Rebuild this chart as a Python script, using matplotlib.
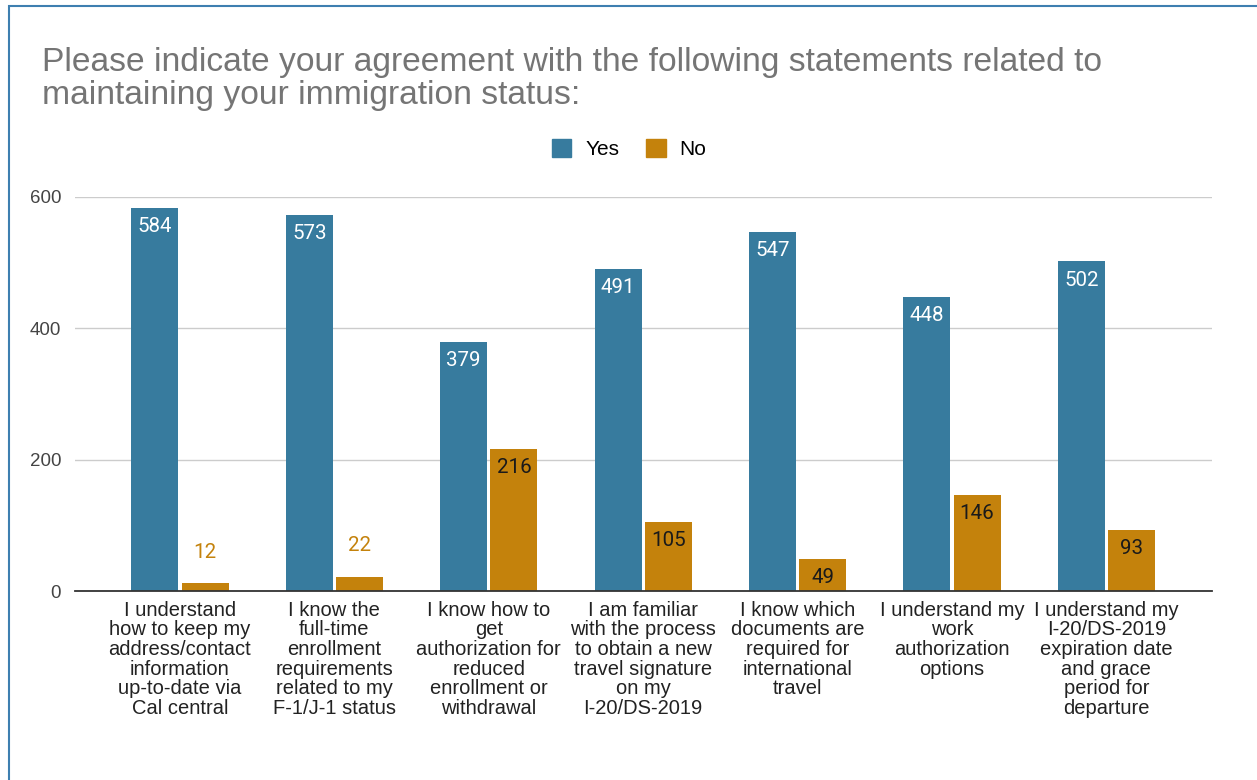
import matplotlib.pyplot as plt
from matplotlib.patches import Rectangle, Patch
import numpy as np

# Survey responses per statement
statements = [
    "I understand\nhow to keep my\naddress/contact\ninformation\nup-to-date via\nCal central",
    "I know the\nfull-time\nenrollment\nrequirements\nrelated to my\nF-1/J-1 status",
    "I know how to\nget\nauthorization for\nreduced\nenrollment or\nwithdrawal",
    "I am familiar\nwith the process\nto obtain a new\ntravel signature\non my\nI-20/DS-2019",
    "I know which\ndocuments are\nrequired for\ninternational\ntravel",
    "I understand my\nwork\nauthorization\noptions",
    "I understand my\nI-20/DS-2019\nexpiration date\nand grace\nperiod for\ndeparture",
]
yes_counts = [584, 573, 379, 491, 547, 448, 502]
no_counts = [12, 22, 216, 105, 49, 146, 93]

YES_COLOR = '#377b9e'
NO_COLOR = '#c4820c'
FONT = 'Liberation Sans'

fig = plt.figure(figsize=(12.57, 7.80), dpi=100)
ax = fig.add_axes([75 / 1257, 1 - 591 / 780, 1137 / 1257, 394 / 780])

x = np.arange(len(statements))
w = 0.305
gap = 0.01
yes_bars = ax.bar(x - w / 2 - gap, yes_counts, w, color=YES_COLOR, zorder=3)
no_bars = ax.bar(x + w / 2 + gap, no_counts, w, color=NO_COLOR, zorder=3)

# value labels: inside the bar if it fits, above it otherwise
for bar, v in zip(yes_bars, yes_counts):
    ax.annotate(str(v), (bar.get_x() + bar.get_width() / 2, v),
                xytext=(0, -13.5), textcoords='offset points',
                ha='center', va='center', color='white', fontsize=14.8,
                family='Roboto', zorder=4)
for bar, v in zip(no_bars, no_counts):
    if v > 40:
        off, col = -13.5, '#1a1a1a'
    else:
        off, col = 22, NO_COLOR
    ax.annotate(str(v), (bar.get_x() + bar.get_width() / 2, v),
                xytext=(0, off), textcoords='offset points',
                ha='center', va='center', color=col, fontsize=14.8,
                family='Roboto', zorder=4)

ax.set_ylim(0, 600)
ax.set_xlim(-0.68, 6.684)
ax.set_yticks([0, 200, 400, 600])
ax.yaxis.grid(True, color='#cccccc', linewidth=1, zorder=0)
ax.set_axisbelow(True)
for s in ['top', 'right', 'left']:
    ax.spines[s].set_visible(False)
ax.spines['bottom'].set_color('#333333')
ax.spines['bottom'].set_linewidth(1.3)
ax.spines['bottom'].set_zorder(5)
ax.tick_params(axis='y', length=0, pad=10, labelsize=13.5, labelcolor='#444444')
ax.tick_params(axis='x', length=0, pad=7)
ax.set_xticks(x)
ax.set_xticklabels(statements, fontsize=14.5, family=FONT, color='#222222',
                   linespacing=1.04, ha='center', va='top')
for lab in ax.get_yticklabels():
    lab.set_family(FONT)

fig.text(42 / 1257, 1 - 47 / 780,
         "Please indicate your agreement with the following statements related to\n"
         "maintaining your immigration status:",
         fontsize=24.2, family=FONT, color='#757575', ha='left', va='top',
         linespacing=1.1)

handles = [Patch(color=YES_COLOR, label='Yes'), Patch(color=NO_COLOR, label='No')]
fig.legend(handles=handles, loc='center', bbox_to_anchor=(629 / 1257, 1 - 149 / 780),
           ncol=2, frameon=False, prop={'family': FONT, 'size': 15},
           handlelength=0.95, handleheight=0.95, columnspacing=1.3, handletextpad=0.65)

# outer frame on the left and top edges
fig.patches.append(Rectangle((9 / 1257, -0.1), 1.2, 1 - 6 / 780 + 0.1,
                             transform=fig.transFigure, fill=False,
                             edgecolor='#3e7fb0', linewidth=1.5))

fig.savefig('out.png', dpi=100)
